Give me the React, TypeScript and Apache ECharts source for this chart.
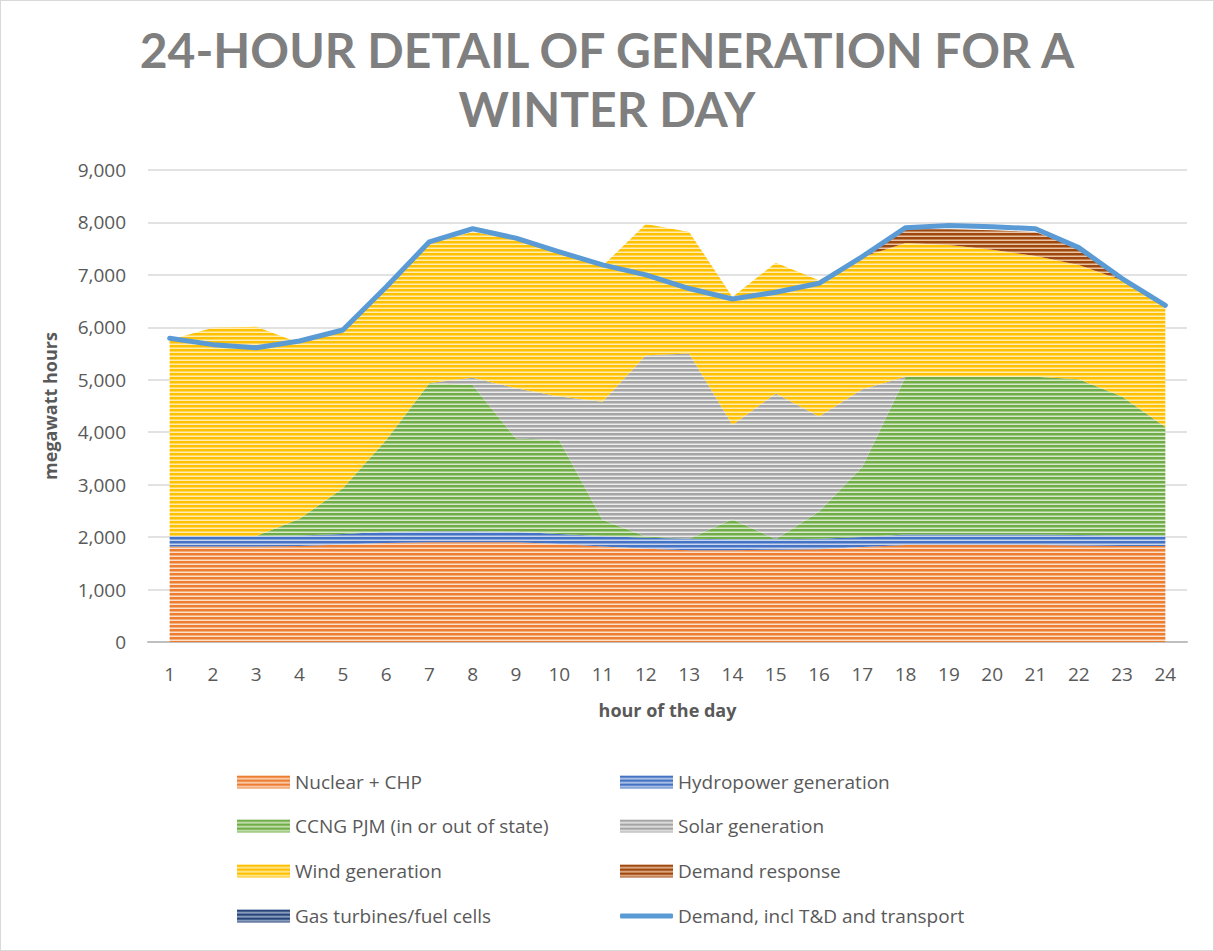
import React, { useEffect, useRef } from "react";
import * as echarts from "echarts";

const hours = ["1","2","3","4","5","6","7","8","9","10","11","12","13","14","15","16","17","18","19","20","21","22","23","24"];

const nuclearChp = [1820,1820,1820,1830,1860,1890,1900,1900,1900,1870,1820,1780,1750,1750,1760,1770,1810,1850,1850,1850,1850,1840,1830,1830];
const hydropower = [200,200,200,200,200,210,210,210,200,190,200,210,220,210,200,200,190,200,200,200,200,200,200,200];
const ccngPjm = [0,0,0,320,870,1750,2830,2790,1780,1790,310,20,0,380,0,520,1340,3010,3010,3010,3010,2970,2650,2070];
const solar = [0,0,0,0,0,0,0,140,960,830,2250,3460,3530,1800,2780,1810,1480,0,0,0,0,0,0,0];
const wind = [3740,3970,3990,3350,3020,2910,2660,2780,2840,2750,2590,2500,2320,2440,2490,2600,2520,2550,2510,2420,2300,2180,2220,2300];
const demandResponse = [0,0,0,0,0,0,0,0,0,0,0,0,0,0,0,0,0,260,300,370,460,320,0,0];
const gasTurbines = [0,0,0,0,0,0,0,0,0,0,0,0,0,0,0,0,0,0,0,0,0,0,0,0];
const demand = [5790,5670,5610,5740,5950,6770,7630,7880,7700,7440,7190,7000,6740,6540,6670,6840,7350,7900,7940,7920,7880,7520,6930,6420];

const names = [
  "Nuclear + CHP",
  "Hydropower generation",
  "CCNG PJM (in or out of state)",
  "Solar generation",
  "Wind generation",
  "Demand response",
  "Gas turbines/fuel cells",
  "Demand, incl T&D and transport",
];

const palette = [
  ["#ED7D31", "#FBE0CC"],
  ["#4472C4", "#C9D6EE"],
  ["#70AD47", "#D7EACB"],
  ["#A5A5A5", "#EDEDED"],
  ["#FFC000", "#FFEDB3"],
  ["#9E480E", "#EBC3A6"],
  ["#264478", "#A9B8D4"],
];

function stripe(main: string, light: string) {
  const c = document.createElement("canvas");
  c.width = 4;
  c.height = 4;
  const ctx = c.getContext("2d")!;
  ctx.fillStyle = main;
  ctx.fillRect(0, 0, 4, 4);
  ctx.fillStyle = light;
  ctx.fillRect(0, 3, 4, 1);
  ctx.globalAlpha = 0.5;
  ctx.fillRect(0, 2, 4, 1);
  return { image: c, repeat: "repeat", imageWidth: 4, imageHeight: 4 } as any;
}

export default function App() {
  const ref = useRef<HTMLDivElement>(null);
  useEffect(() => {
    document.body.style.margin = "0";
    const chart = echarts.init(ref.current!, undefined, { renderer: "svg" });
    const areaData = [nuclearChp, hydropower, ccngPjm, solar, wind, demandResponse, gasTurbines];
    const patterns = palette.map(([m, l]) => stripe(m, l));
    const textColor = "#595959";
    const font = "'Open Sans', Lato, sans-serif";

    const areaSeries = areaData.map((d, i) => ({
      name: names[i],
      type: "line",
      stack: "total",
      data: d,
      symbol: "none",
      color: palette[i][0],
      lineStyle: { width: 0 },
      areaStyle: { color: patterns[i], opacity: 1 },
      z: 2,
    }));

    const legendPos = [
      [237, 781], [620, 781],
      [237, 825], [620, 825],
      [237, 870], [620, 870],
      [237, 915], [620, 915],
    ];
    const legends = names.map((n, i) => ({
      data: [
        i < 7
          ? { name: n, icon: "rect", itemStyle: { color: patterns[i] } }
          : { name: n, icon: "roundRect" },
      ],
      left: legendPos[i][0] - 1,
      top: legendPos[i][1] - 11,
      padding: 0,
      itemWidth: 53,
      itemHeight: i < 7 ? 13 : 5,
      selectedMode: false,
      textStyle: { color: textColor, fontSize: 19, fontFamily: font, lineHeight: 22, padding: [0, 0, 0, 0] },
    }));

    chart.setOption({
      animation: false,
      backgroundColor: "#ffffff",
      title: {
        text: "24-HOUR DETAIL OF GENERATION FOR A\nWINTER DAY",
        left: "center",
        top: 14,
        textStyle: {
          color: "#7F7F7F",
          fontSize: 48,
          fontWeight: "bold",
          fontFamily: "Lato, 'Open Sans', sans-serif",
          lineHeight: 59,
        },
      },
      legend: legends,
      grid: { left: 147, right: 26, top: 169, bottom: 308 },
      xAxis: {
        type: "category",
        data: hours,
        boundaryGap: true,
        name: "hour of the day",
        nameLocation: "middle",
        nameGap: 59,
        nameTextStyle: { color: textColor, fontSize: 18, fontWeight: "bold", fontFamily: font },
        axisLine: { lineStyle: { color: "#BFBFBF", width: 2 } },
        axisTick: { show: false },
        axisLabel: { color: textColor, fontSize: 19, fontFamily: font, margin: 22 },
      },
      yAxis: {
        type: "value",
        min: 0,
        max: 9000,
        interval: 1000,
        name: "megawatt hours",
        nameLocation: "middle",
        nameGap: 89,
        nameTextStyle: { color: textColor, fontSize: 18, fontWeight: "bold", fontFamily: font },
        axisLine: { show: false },
        axisTick: { show: false },
        splitLine: { lineStyle: { color: "#D9D9D9", width: 1.5 } },
        axisLabel: {
          color: textColor,
          fontSize: 19,
          fontFamily: font,
          margin: 22,
          formatter: (v: number) => v.toLocaleString("en-US"),
        },
      },
      series: [
        ...areaSeries,
        {
          name: names[7],
          type: "line",
          data: demand,
          symbol: "none",
          color: "#5B9BD5",
          lineStyle: { width: 5, color: "#5B9BD5", cap: "round", join: "round" },
          z: 5,
        },
      ],
    });
    return () => chart.dispose();
  }, []);
  return (
    <div
      ref={ref}
      style={{ width: 1214, height: 951, boxSizing: "border-box", border: "1px solid #D9D9D9" }}
    />
  );
}
